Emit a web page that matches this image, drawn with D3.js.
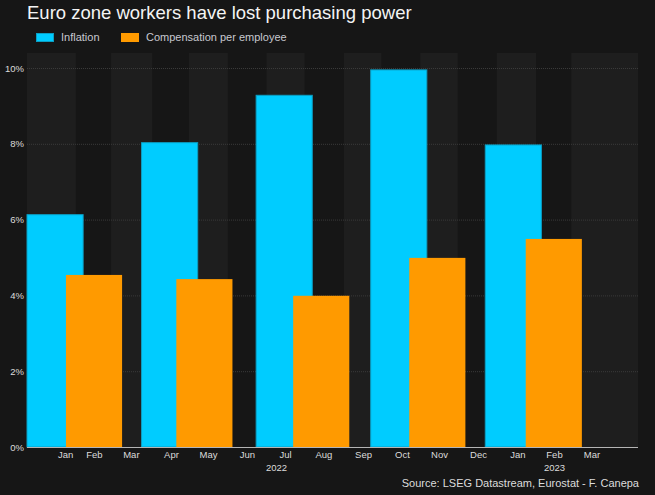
<!DOCTYPE html>
<html><head><meta charset="utf-8">
<script src="https://cdn.jsdelivr.net/npm/d3@7"></script>
<style>html,body{margin:0;padding:0;background:#161616}svg{display:block}text{font-family:"Liberation Sans",Arial,sans-serif}</style>
</head><body><svg id="c" width="655" height="495"></svg>
<script>
// positions along the time axis are in months since the first bar's start
const inflationLabel = "Inflation";
const compensationLabel = "Compensation per employee";
const inflationStart = [0, 3, 6, 9, 12];
const inflationValues = [6.13, 8.03, 9.28, 9.95, 7.97];
const compensationStart = [1.02, 3.91, 6.97, 10.01, 13.06];
const compensationValues = [4.54, 4.43, 3.99, 4.99, 5.49];
const barSpan = 1.47;
const bandStart = [0, 2.2, 4.24, 6.27, 8.3, 10.3, 12.3, 14.25];
const bandEnd = [1.28, 3.28, 5.26, 7.27, 9.28, 11.28, 13.33, 16];
const monthLabels = ["Jan","Feb","Mar","Apr","May","Jun","Jul","Aug","Sep","Oct","Nov","Dec","Jan","Feb","Mar"];
const monthTicks = [1.0,1.75,2.72,3.77,4.74,5.76,6.76,7.76,8.8,9.82,10.79,11.81,12.84,13.8,14.78];
const yearLabels = ["2022","2023"];
const yearTicks = [6.52,13.8];
const yTicks = [0,2,4,6,8,10];

const svg = d3.select("#c");
const x = d3.scaleLinear().domain([0,16]).range([27,638]);
const y = d3.scaleLinear().domain([0,10]).range([447,68]);
const bandTop = 53;
const labelColor = "#dcdcdc";

svg.append("rect").attr("width",655).attr("height",495).attr("fill","#161616");

svg.append("g").selectAll("rect").data(bandStart).join("rect")
  .attr("x",d=>x(d)).attr("width",(d,i)=>x(bandEnd[i])-x(d))
  .attr("y",bandTop).attr("height",y(0)-bandTop).attr("fill","#1e1e1e");

const yAxis = d3.axisLeft(y).tickValues(yTicks).tickSize(0).tickPadding(3).tickFormat(d=>d+"%");
const gy = svg.append("g").attr("transform","translate(27,0)").call(yAxis);
gy.select(".domain").remove();
gy.selectAll("text").attr("fill",labelColor).style("font-size","9.5px");

svg.append("g").selectAll("line").data(yTicks.filter(d=>d>0)).join("line")
  .attr("x1",x(0)).attr("x2",x(16)).attr("y1",d=>y(d)+.5).attr("y2",d=>y(d)+.5)
  .attr("stroke","#3a3a3a").attr("stroke-width",1).attr("stroke-dasharray","1 1");

function bars(starts, vals, col, edge){
  svg.append("g").selectAll("rect").data(vals).join("rect")
    .attr("x",(d,i)=>x(starts[i])).attr("width",x(barSpan)-x(0))
    .attr("y",d=>y(d)).attr("height",d=>y(0)-y(d))
    .attr("fill",col).attr("stroke",edge).attr("stroke-width",1);
}
bars(inflationStart, inflationValues, "#00ccff", "#0b9fc4");
bars(compensationStart, compensationValues, "#ff9a00", "none");

svg.append("line").attr("x1",x(0)).attr("x2",x(16)).attr("y1",447.5).attr("y2",447.5).attr("stroke","#b5b5b5");

const xAxis = d3.axisBottom(x).tickValues(monthTicks).tickSize(0).tickPadding(4).tickFormat((d,i)=>monthLabels[i]);
const gx = svg.append("g").attr("transform","translate(0,447)").call(xAxis);
gx.select(".domain").remove();
gx.selectAll("text").attr("fill",labelColor).style("font-size","9.5px");

const yr = d3.axisBottom(x).tickValues(yearTicks).tickSize(0).tickPadding(17).tickFormat((d,i)=>yearLabels[i]);
const gyr = svg.append("g").attr("transform","translate(0,447)").call(yr);
gyr.select(".domain").remove();
gyr.selectAll("text").attr("fill",labelColor).style("font-size","9.5px");

svg.append("text").attr("x",27).attr("y",19).attr("fill","#f4f4f4").style("font-size","18.5px").text("Euro zone workers have lost purchasing power");

const leg = [[36,inflationLabel,"#00ccff","#0b9fc4",61],[121,compensationLabel,"#ff9a00","#ff9a00",146]];
leg.forEach(([lx,t,c,e,tx])=>{
  svg.append("rect").attr("x",lx+.5).attr("y",33.5).attr("width",17).attr("height",8).attr("fill",c).attr("stroke",e);
  svg.append("text").attr("x",tx).attr("y",41).attr("fill","#c8c8d0").style("font-size","11px").text(t);
});

svg.append("text").attr("x",639).attr("y",487).attr("text-anchor","end").attr("fill",labelColor).style("font-size","11px").text("Source: LSEG Datastream, Eurostat - F. Canepa");
</script></body></html>
